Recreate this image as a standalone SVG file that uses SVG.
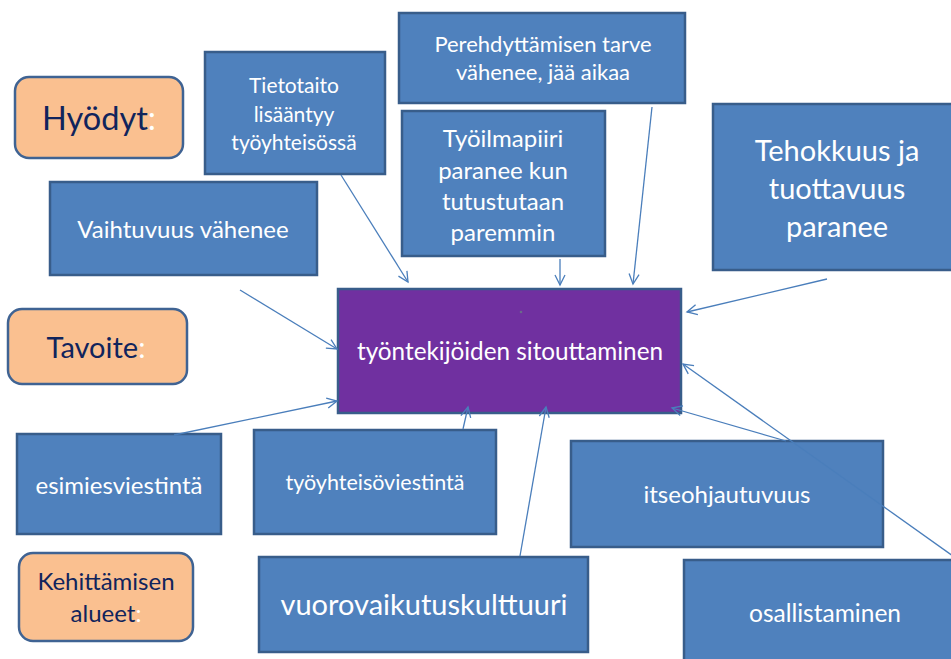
<svg xmlns="http://www.w3.org/2000/svg" width="951" height="659" viewBox="0 0 951 659">
<defs>
<style>
.box{fill:#4F81BD;stroke:#385D8A;stroke-width:2.5}
.main{fill:#7030A0;stroke:#385D8A;stroke-width:2.5}
.lbl{fill:#FAC090;stroke:#3F6393;stroke-width:2.5}
.t{font-family:Lato,"Liberation Sans",sans-serif;fill:#FFFFFF;text-anchor:middle}
.d{font-family:Lato,"Liberation Sans",sans-serif;fill:#10245C;text-anchor:middle}
.w{fill:#FFFFFF}
.c{stroke:#4A7EBB;stroke-width:1.3;fill:none;marker-end:url(#ah)}
</style>
<marker id="ah" markerUnits="userSpaceOnUse" markerWidth="14" markerHeight="14" refX="11" refY="6" orient="auto" viewBox="0 0 14 12">
<path d="M1,1 L11,6 L1,11" fill="none" stroke="#4A7EBB" stroke-width="1.3"/>
</marker>
</defs>
<rect width="951" height="659" fill="#FFFFFF"/>

<g id="hyodyt">
<rect class="lbl" x="15" y="77" width="168" height="81" rx="14"/>
<text class="d" x="99" y="130" font-size="32.5">Hyödyt<tspan class="w">:</tspan></text>
</g>
<g id="tavoite">
<rect class="lbl" x="8" y="309" width="179" height="75" rx="14"/>
<text class="d" x="96" y="358" font-size="29">Tavoite<tspan class="w">:</tspan></text>
</g>
<g id="kehittamisen">
<rect class="lbl" x="19" y="553" width="174" height="88" rx="14"/>
<text class="d" x="106" y="590" font-size="24">Kehittämisen</text>
<text class="d" x="106" y="622" font-size="24">alueet<tspan class="w">:</tspan></text>
</g>

<g id="tietotaito">
<rect class="box" x="205" y="52" width="180" height="122"/>
<text class="t" x="294" y="93" font-size="21">Tietotaito</text>
<text class="t" x="294" y="122" font-size="21">lisääntyy</text>
<text class="t" x="294" y="150" font-size="21">työyhteisössä</text>
</g>
<g id="perehdyttaminen">
<rect class="box" x="399" y="13" width="286" height="90"/>
<text class="t" x="543" y="52" font-size="22">Perehdyttämisen tarve</text>
<text class="t" x="543" y="80" font-size="22">vähenee, jää aikaa</text>
</g>
<g id="tyoilmapiiri">
<rect class="box" x="402" y="111" width="203" height="145"/>
<text class="t" x="503" y="147" font-size="24">Työilmapiiri</text>
<text class="t" x="503" y="179" font-size="24">paranee kun</text>
<text class="t" x="503" y="210" font-size="24">tutustutaan</text>
<text class="t" x="503" y="241" font-size="24">paremmin</text>
</g>
<g id="tehokkuus">
<rect class="box" x="713" y="104" width="240" height="166"/>
<text class="t" x="837" y="161" font-size="29">Tehokkuus ja</text>
<text class="t" x="837" y="199" font-size="29">tuottavuus</text>
<text class="t" x="837" y="237" font-size="29">paranee</text>
</g>
<g id="vaihtuvuus">
<rect class="box" x="50" y="182" width="267" height="93"/>
<text class="t" x="183" y="238" font-size="24">Vaihtuvuus vähenee</text>
</g>

<g id="sitouttaminen">
<rect class="main" x="338" y="289" width="343" height="124"/>
<circle cx="521" cy="312" r="1.3" fill="#6A6A8A"/>
<text class="t" x="510" y="360" font-size="24.3">työntekijöiden sitouttaminen</text>
</g>

<g id="esimiesviestinta">
<rect class="box" x="17" y="434" width="204" height="100"/>
<text class="t" x="119" y="494" font-size="24">esimiesviestintä</text>
</g>
<g id="tyoyhteisoviestinta">
<rect class="box" x="254" y="430" width="242" height="104"/>
<text class="t" x="375" y="490" font-size="21.5">työyhteisöviestintä</text>
</g>
<g id="itseohjautuvuus">
<rect class="box" x="571" y="441" width="312" height="106"/>
<text class="t" x="727" y="503" font-size="24">itseohjautuvuus</text>
</g>
<g id="osallistaminen">
<rect class="box" x="684" y="560" width="270" height="102"/>
<text class="t" x="825" y="622" font-size="24.5">osallistaminen</text>
</g>
<g id="vuorovaikutuskulttuuri">
<rect class="box" x="259" y="557" width="329" height="95"/>
<text class="t" x="424" y="615" font-size="29">vuorovaikutuskulttuuri</text>
</g>

<g id="connectors">
<line class="c" x1="341" y1="175" x2="408" y2="282"/>
<line class="c" x1="560" y1="259" x2="560" y2="285"/>
<line class="c" x1="652" y1="107" x2="633" y2="284"/>
<line class="c" x1="827" y1="279" x2="687" y2="312"/>
<line class="c" x1="240" y1="290" x2="337" y2="349"/>
<line class="c" x1="174" y1="435" x2="337" y2="401"/>
<line class="c" x1="463" y1="429" x2="468" y2="407"/>
<line class="c" x1="520" y1="556" x2="546" y2="407"/>
<line class="c" x1="786" y1="441" x2="672" y2="408"/>
<line class="c" x1="953" y1="556" x2="683" y2="364"/>
</g>
</svg>
